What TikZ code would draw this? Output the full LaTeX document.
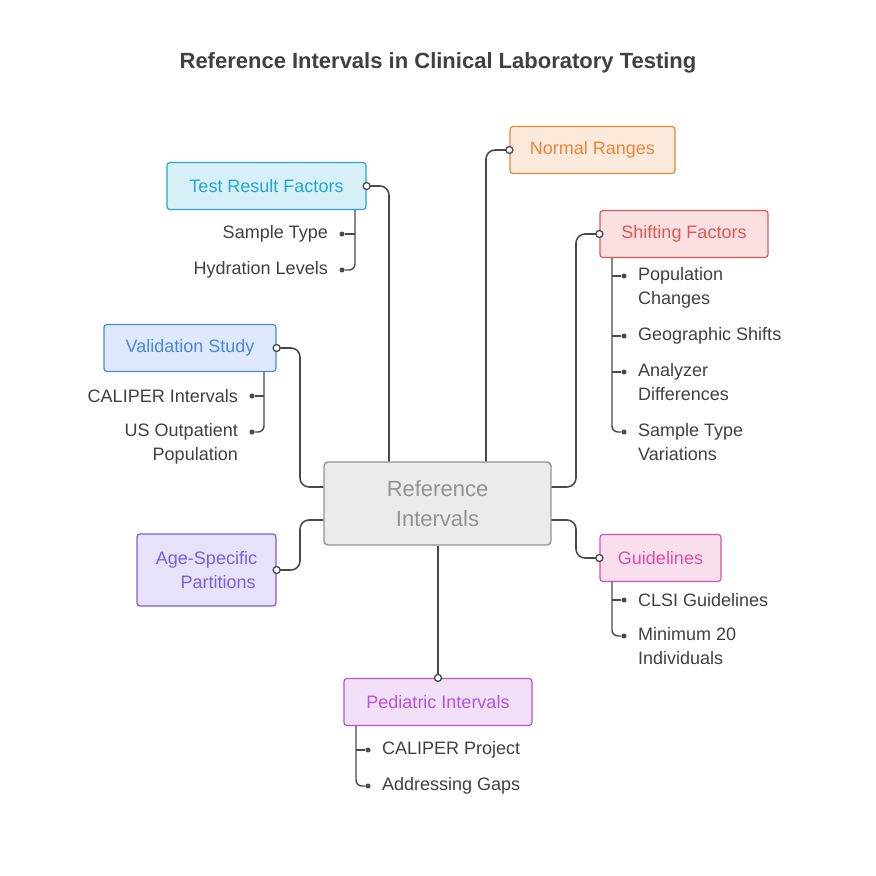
\documentclass[tikz,border=0pt]{standalone}
\usepackage{fontspec}
\setmainfont{Liberation Sans}
\usetikzlibrary{calc}
\definecolor{ink}{HTML}{404040}
\definecolor{ln}{HTML}{4A4A4A}
\tikzset{
 x=1pt,y=-1pt,
 box/.style={draw=#1, fill=#1!18, text=#1, rounded corners=3pt, line width=1.2pt, inner sep=0pt, font=\fontsize{18}{24}\selectfont, align=center},
 conn/.style={draw=ln, line width=1.6pt, rounded corners=9pt},
 sub/.style={draw=ln, line width=1.4pt, rounded corners=6pt},
 dot/.style={circle, fill=ln, inner sep=0pt, minimum size=5pt},
 odot/.style={circle, draw=ln, fill=white, line width=1.3pt, inner sep=0pt, minimum size=7pt},
 it/.style={text=ink, font=\fontsize{18}{24}\selectfont, inner sep=0pt},
}
\definecolor{cy}{HTML}{23A6D5}
\definecolor{orn}{HTML}{E8873A}
\definecolor{rd}{HTML}{E25555}
\definecolor{bl}{HTML}{4A86E8}
\definecolor{pu}{HTML}{7A5FE0}
\definecolor{pk}{HTML}{DE4FA0}
\definecolor{vi}{HTML}{B552E0}
\begin{document}
\begin{tikzpicture}
\useasboundingbox (0,0) rectangle (876,876);
\node[font=\bfseries\fontsize{22}{26}\selectfont, text=ink] (title) at (438,63) {Reference Intervals in Clinical Laboratory Testing};

\node[draw=gray!85, fill=gray!16, text=gray!85, rounded corners=4pt, line width=1.4pt, minimum width=227pt, minimum height=83pt, align=center, font=\fontsize{22}{30}\selectfont] (ref) at (437.5,503.5) {Reference\\Intervals};

\node[box=cy, minimum width=199pt, minimum height=47pt] (trf) at (266.5,186) {Test Result Factors};
\node[box=orn, minimum width=165pt, minimum height=47pt] (nr) at (592.5,150) {Normal Ranges};
\node[box=rd, minimum width=168pt, minimum height=47pt] (sf) at (684,234) {Shifting Factors};
\node[box=bl, minimum width=172pt, minimum height=47pt] (vs) at (190,348) {Validation Study};
\node[box=pu, minimum width=139pt, minimum height=72pt] (asp) at (206.5,570) {Age-Specific\\\hspace*{1.3em}Partitions};
\node[box=pk, minimum width=121pt, minimum height=47pt] (gl) at (660.5,558) {Guidelines};
\node[box=vi, minimum width=188pt, minimum height=47pt] (pi) at (438,702) {Pediatric Intervals};

% main connectors
\draw[conn] (trf.east) -| (ref.north -| 389,0);
\draw[conn] (nr.west) -| (ref.north -| 486,0);
\draw[conn] (sf.west) -| (576,487) -- (ref.east |- 0,487);
\draw[conn] (vs.east) -| (300,487) -- (ref.west |- 0,487);
\draw[conn] (asp.east) -| (300,520) -- (ref.west |- 0,520);
\draw[conn] (gl.west) -| (576,520) -- (ref.east |- 0,520);
\draw[conn] (pi.north) -- (ref.south -| pi.north);
\node[odot] at (trf.east) {};
\node[odot] at (nr.west) {};
\node[odot] at (sf.west) {};
\node[odot] at (vs.east) {};
\node[odot] at (asp.east) {};
\node[odot] at (gl.west) {};
\node[odot] at (pi.north) {};

% Test result factors
\node[it, anchor=east] (t1) at (328,234) {Sample Type};
\node[it, anchor=east] (t2) at (328,270) {Hydration Levels};
\node[dot] (td1) at (342,234) {};
\node[dot] (td2) at (342,270) {};
\draw[sub] (trf.south -| 355,0) |- (td2);
\draw[sub] (355,234) -- (td1);

% Validation
\node[it, anchor=east] (v1) at (238,396) {CALIPER Intervals};
\node[it, anchor=north east, align=right] (v2) at (238,423) {US Outpatient\\Population};
\node[dot] (vd1) at (252,396) {};
\node[dot] (vd2) at (252,432) {};
\draw[sub] (vs.south -| 264,0) |- (vd2);
\draw[sub] (264,396) -- (vd1);

% Shifting
\node[it, anchor=north west, align=left] (s1) at (638,267) {Population\\Changes};
\node[it, anchor=west] (s2) at (638,336) {Geographic Shifts};
\node[it, anchor=north west, align=left] (s3) at (638,363) {Analyzer\\Differences};
\node[it, anchor=north west, align=left] (s4) at (638,423) {Sample Type\\Variations};
\node[dot] (sd1) at (624,276) {};
\node[dot] (sd2) at (624,336) {};
\node[dot] (sd3) at (624,372) {};
\node[dot] (sd4) at (624,432) {};
\draw[sub] (sf.south -| 612,0) |- (sd4);
\draw[sub] (612,276) -- (sd1);
\draw[sub] (612,336) -- (sd2);
\draw[sub] (612,372) -- (sd3);

% Guidelines
\node[it, anchor=west] (g1) at (638,600) {CLSI Guidelines};
\node[it, anchor=north west, align=left] (g2) at (638,627) {Minimum 20\\Individuals};
\node[dot] (gd1) at (624,600) {};
\node[dot] (gd2) at (624,636) {};
\draw[sub] (gl.south -| 612,0) |- (gd2);
\draw[sub] (612,600) -- (gd1);

% Pediatric
\node[it, anchor=west] (p1) at (382,750) {CALIPER Project};
\node[it, anchor=west] (p2) at (382,786) {Addressing Gaps};
\node[dot] (pd1) at (368,750) {};
\node[dot] (pd2) at (368,786) {};
\draw[sub] (pi.south -| 356,0) |- (pd2);
\draw[sub] (356,750) -- (pd1);
\end{tikzpicture}
\end{document}
